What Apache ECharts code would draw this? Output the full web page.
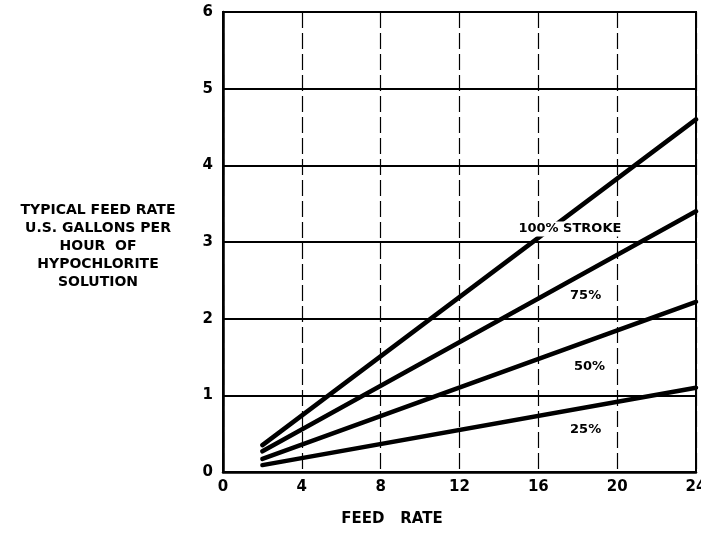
<!DOCTYPE html>
<html>
<head>
<meta charset="utf-8">
<script src="https://cdn.jsdelivr.net/npm/echarts@6/dist/echarts.min.js"></script>
<style>
  html, body { margin: 0; padding: 0; background: #fff; }
  #chart { width: 701px; height: 537px; }
</style>
</head>
<body>
<div id="chart"></div>
<script>
// feed rate (x) and gallons per hour (y)
const feedRate = [2, 24];
const stroke100 = [0.35, 4.6];
const stroke75 = [0.27, 3.4];
const stroke50 = [0.17, 2.22];
const stroke25 = [0.09, 1.1];
const xTicks = [0, 4, 8, 12, 16, 20, 24];
const yTicks = [0, 1, 2, 3, 4, 5, 6];

const labels = [
  { text: '100% STROKE', at: [17.6, 3.17] },
  { text: '75%', at: [18.4, 2.3] },
  { text: '50%', at: [18.6, 1.38] },
  { text: '25%', at: [18.4, 0.55] }
];

const font = '"DejaVu Sans", sans-serif';
const chart = echarts.init(document.getElementById('chart'));

const pts = vals => feedRate.map((x, i) => [x, vals[i]]);

const lineSeries = [stroke100, stroke75, stroke50, stroke25].map((vals, i) => ({
  type: 'line',
  data: pts(vals),
  symbol: 'none',
  z: 3,
  lineStyle: { color: '#000', width: 4.5, cap: 'round' },
  markPoint: i === 0 ? {
    symbol: 'rect',
    symbolSize: 0,
    data: labels.map(l => ({
      coord: l.at,
      label: {
        show: true,
        formatter: l.text,
        color: '#000',
        fontFamily: font,
        fontWeight: 'bold',
        fontSize: 13,
        backgroundColor: '#fff',
        padding: [1, 2],
        position: 'inside'
      }
    }))
  } : undefined
}));

const option = {
  animation: false,
  backgroundColor: '#fff',
  grid: { left: 223, right: 5, top: 12, bottom: 65, containLabel: false, outerBoundsMode: 'none' },
  xAxis: {
    type: 'value',
    min: 0, max: 24, interval: 4,
    axisLine: { lineStyle: { color: '#000', width: 2.5 } },
    axisTick: { show: false },
    axisLabel: {
      color: '#000', fontFamily: font, fontWeight: 'bold', fontSize: 15, margin: 8,
      formatter: v => xTicks.includes(v) ? String(v) : ''
    },
    splitLine: { show: true, lineStyle: { color: '#000', width: 1.2, type: [16, 5] } }
  },
  yAxis: {
    type: 'value',
    min: 0, max: 6, interval: 1,
    axisLine: { show: true, lineStyle: { color: '#000', width: 2.5 } },
    axisTick: { show: false },
    axisLabel: {
      color: '#000', fontFamily: font, fontWeight: 'bold', fontSize: 15, margin: 10,
      formatter: v => yTicks.includes(v) ? String(v) : ''
    },
    splitLine: { show: true, lineStyle: { color: '#000', width: 2 } }
  },
  graphic: [
    {
      type: 'rect',
      shape: { x: 223, y: 12, width: 473, height: 460 },
      style: { fill: 'none', stroke: '#000', lineWidth: 2 },
      silent: true, z: 1
    },
    {
      type: 'text',
      x: 98, y: 201,
      style: {
        text: 'TYPICAL FEED RATE\nU.S. GALLONS PER\nHOUR  OF\nHYPOCHLORITE\nSOLUTION',
        fill: '#000', font: 'bold 14px ' + font,
        textAlign: 'center', lineHeight: 18
      }
    },
    {
      type: 'text',
      x: 392, y: 512,
      style: {
        text: 'FEED   RATE',
        fill: '#000', font: 'bold 15px ' + font,
        textAlign: 'center'
      }
    }
  ],
  series: lineSeries
};

chart.setOption(option);
</script>
</body>
</html>
